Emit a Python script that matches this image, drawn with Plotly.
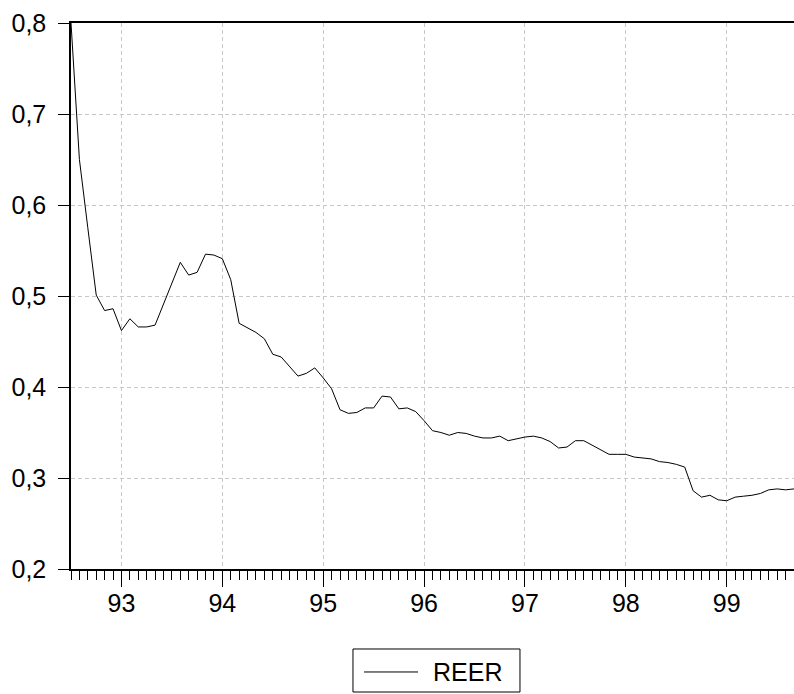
import plotly.graph_objects as go

# Monthly REER, July 1992 - September 1999
start_year = 92.5
reer = [
    0.800, 0.650, 0.575, 0.501, 0.484, 0.486,
    0.462, 0.475, 0.466, 0.466, 0.468, 0.491, 0.516, 0.537, 0.523, 0.526, 0.546, 0.545,
    0.541, 0.518, 0.470, 0.465, 0.460, 0.453, 0.436, 0.433, 0.423, 0.412, 0.415, 0.421,
    0.410, 0.398, 0.375, 0.371, 0.372, 0.377, 0.377, 0.390, 0.389, 0.376, 0.377, 0.373,
    0.363, 0.352, 0.350, 0.347, 0.350, 0.349, 0.346, 0.344, 0.344, 0.346, 0.341, 0.343,
    0.345, 0.346, 0.344, 0.340, 0.333, 0.334, 0.341, 0.341, 0.336, 0.331, 0.326, 0.326,
    0.326, 0.323, 0.322, 0.321, 0.318, 0.317, 0.315, 0.312, 0.286, 0.279, 0.281, 0.276,
    0.275, 0.279, 0.280, 0.281, 0.283, 0.287, 0.288, 0.287, 0.288,
]
x_vals = [start_year + i / 12 for i in range(len(reer))]
year_ticks = [93, 94, 95, 96, 97, 98, 99]
year_labels = ["93", "94", "95", "96", "97", "98", "99"]
y_ticks = [0.2, 0.3, 0.4, 0.5, 0.6, 0.7, 0.8]
series_name = "REER"

font = "Liberation Sans, Arial, sans-serif"
fsize = 25

fig = go.Figure()
fig.add_trace(go.Scatter(
    x=x_vals, y=reer, mode="lines", name=series_name,
    line=dict(color="black", width=1), showlegend=False,
))

# Legend box drawn below the plot (paper coordinates)
fig.add_shape(type="rect", xref="paper", yref="paper",
              x0=0.390, x1=0.621, y0=-0.2253, y1=-0.1465,
              line=dict(color="black", width=1), fillcolor="white")
fig.add_shape(type="line", xref="paper", yref="paper",
              x0=0.4053, x1=0.480, y0=-0.1886, y1=-0.1886,
              line=dict(color="black", width=1))
fig.add_annotation(xref="paper", yref="paper", x=0.4975, y=-0.1886,
                   xanchor="left", yanchor="middle", showarrow=False,
                   text=series_name, font=dict(size=fsize, family=font, color="black"))

fig.update_layout(
    width=794, height=694,
    margin=dict(l=71, r=0, t=23, b=125, autoexpand=False),
    paper_bgcolor="white", plot_bgcolor="white",
    separators=", ",
    font=dict(family=font, size=fsize, color="black"),
    showlegend=False,
)
fig.update_xaxes(
    range=[start_year, x_vals[-1]], automargin=False,
    tickmode="array", tickvals=year_ticks, ticktext=year_labels,
    ticks="outside", ticklen=16, tickwidth=1, tickcolor="black",
    showline=True, linecolor="black", linewidth=1.5, mirror=True,
    showgrid=True, gridcolor="#c8c8c8", griddash="4px,3px", gridwidth=1,
    zeroline=False,
    minor=dict(tick0=start_year, dtick=1 / 12, ticks="outside", ticklen=9,
               tickcolor="black", tickwidth=1, showgrid=False),
    ticklabelstandoff=-5,
)
fig.update_yaxes(
    range=[0.2, 0.8], automargin=False,
    tickmode="array", tickvals=y_ticks, tickformat=".1f",
    ticks="outside", ticklen=11, tickwidth=1, tickcolor="black",
    showline=True, linecolor="black", linewidth=1.5,
    showgrid=True, gridcolor="#c8c8c8", griddash="4px,3px", gridwidth=1,
    zeroline=False,
    ticklabelstandoff=7,
)

fig.write_html(
    "out.html",
    config={"displayModeBar": False},
    post_script="document.body.style.margin='0';document.body.style.overflow='hidden';",
)
